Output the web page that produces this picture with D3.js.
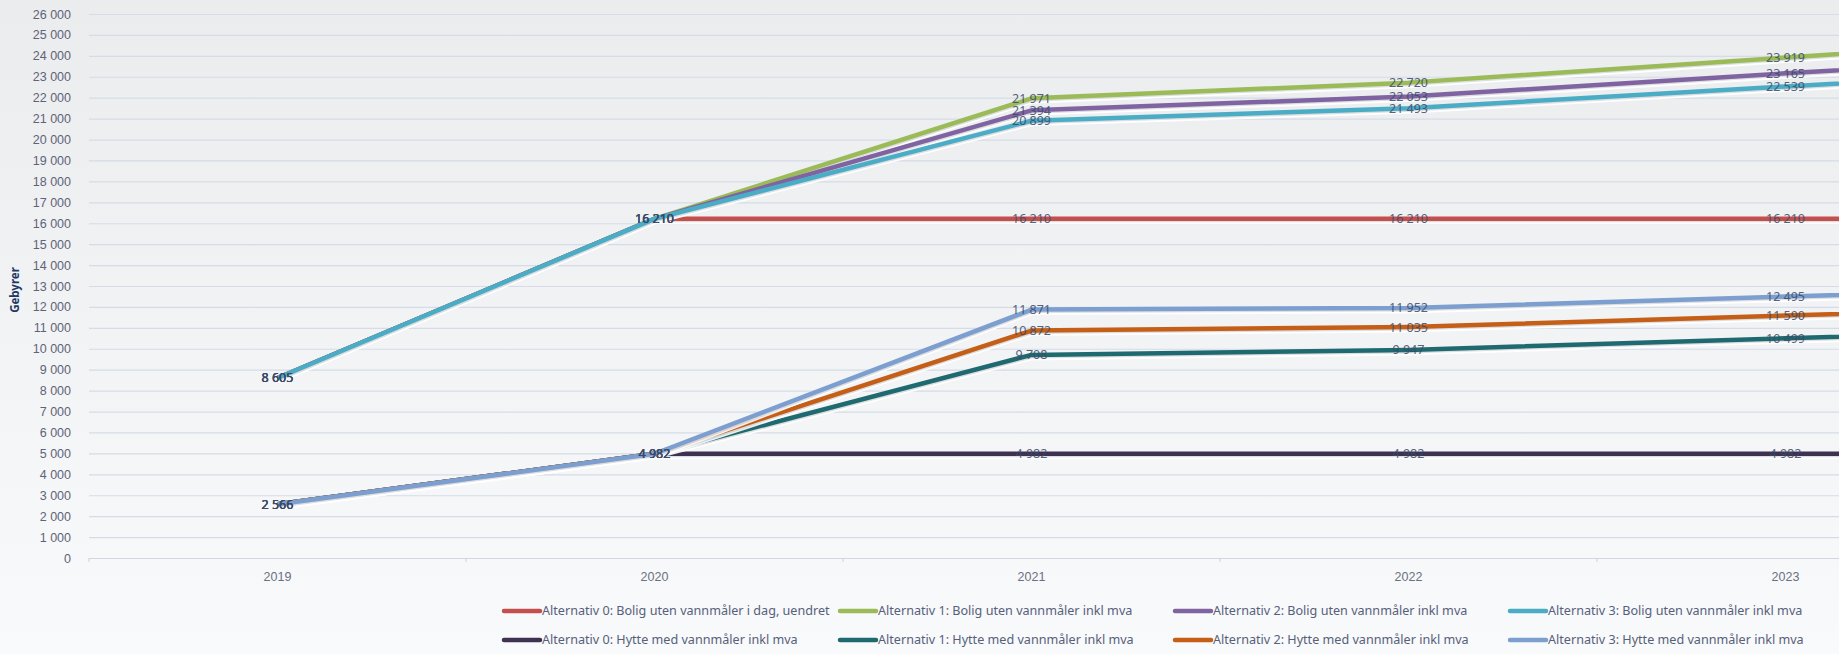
<!DOCTYPE html>
<html>
<head>
<meta charset="utf-8">
<script src="https://cdn.jsdelivr.net/npm/d3@7"></script>
<style>
  html, body { margin: 0; padding: 0; overflow: hidden; background: #f3f4f6; }
  svg { display: block; font-family: "Noto Sans", "Open Sans", sans-serif; }
</style>
</head>
<body>
<svg id="chart" width="1839" height="654"></svg>
<script>
// ---------- data ----------
const years = ["2019", "2020", "2021", "2022", "2023", "2024"];
const yTicks = [0,1000,2000,3000,4000,5000,6000,7000,8000,9000,10000,11000,12000,13000,14000,15000,16000,17000,18000,19000,20000,21000,22000,23000,24000,25000,26000];
const seriesNames = [
  "Alternativ 0: Bolig uten vannmåler i dag, uendret",
  "Alternativ 1: Bolig uten vannmåler inkl mva",
  "Alternativ 2: Bolig uten vannmåler inkl mva",
  "Alternativ 3: Bolig uten vannmåler inkl mva",
  "Alternativ 0: Hytte med vannmåler inkl mva",
  "Alternativ 1: Hytte med vannmåler inkl mva",
  "Alternativ 2: Hytte med vannmåler inkl mva",
  "Alternativ 3: Hytte med vannmåler inkl mva"
];
const seriesColors = ["#c4504d", "#9bbb59", "#8064a2", "#4bacc6", "#3f3151", "#1f6a70", "#c55e16", "#7c9fd0"];
const alt0Bolig = [8605, 16210, 16210, 16210, 16210, 16210];
const alt1Bolig = [8605, 16210, 21971, 22720, 23919, 25100];
const alt2Bolig = [8605, 16210, 21394, 22053, 23165, 24200];
const alt3Bolig = [8605, 16210, 20899, 21493, 22539, 23500];
const alt0Hytte = [2566, 4982, 4982, 4982, 4982, 4982];
const alt1Hytte = [2566, 4982, 9708, 9947, 10499, 11000];
const alt2Hytte = [2566, 4982, 10872, 11035, 11590, 12100];
const alt3Hytte = [2566, 4982, 11871, 11952, 12495, 13000];
const seriesValues = [alt0Bolig, alt1Bolig, alt2Bolig, alt3Bolig, alt0Hytte, alt1Hytte, alt2Hytte, alt3Hytte];
const yTitle = "Gebyrer";

// ---------- setup ----------
const W = 1839, H = 654;
const svg = d3.select("#chart");
const loc = d3.formatLocale({decimal: ",", thousands: "\u00a0", grouping: [3], currency: ["", ""]});
const fmt = loc.format(",d");

const defs = svg.append("defs");
const grad = defs.append("linearGradient").attr("id", "bg").attr("x1", 0).attr("y1", 0).attr("x2", 0).attr("y2", 1);
grad.append("stop").attr("offset", "0%").attr("stop-color", "#ebecee");
grad.append("stop").attr("offset", "100%").attr("stop-color", "#f9fafb");
svg.append("rect").attr("width", W).attr("height", H).attr("fill", "url(#bg)");

const plotLeft = 89, band = 377;
const x = d3.scaleBand().domain(years).range([plotLeft, plotLeft + band * years.length]).padding(0);
const y = d3.scaleLinear().domain([0, 26000]).range([558, 14]);
const cx = d => x(d) + x.bandwidth() / 2;
const visible = d => cx(d) < W - 20;

// y axis + gridlines
const yAxis = svg.append("g").attr("transform", `translate(${plotLeft},0)`)
  .call(d3.axisLeft(y).tickValues(yTicks).tickFormat(fmt).tickSize(-(W - plotLeft)).tickPadding(18));
yAxis.select(".domain").remove();
yAxis.selectAll(".tick line").attr("stroke", "#d5dce7").attr("stroke-width", 1.2);
yAxis.selectAll(".tick text").attr("fill", "#5d6478").attr("font-size", 12.5);

// x axis (only categories that fall inside the picture get a label)
const xAxis = svg.append("g").attr("transform", `translate(0,${y(0)})`)
  .call(d3.axisBottom(x).tickValues(years.filter(visible)).tickSize(0).tickPadding(14));
xAxis.select(".domain").attr("stroke", "#d0d7e2").attr("stroke-width", 1.2);
xAxis.selectAll(".tick text").attr("fill", "#6a7080").attr("font-size", 12.5);
// band boundary tick marks
svg.append("g").selectAll("line").data(years).join("line")
  .attr("x1", d => x(d)).attr("x2", d => x(d))
  .attr("y1", y(0)).attr("y2", y(0) + 4)
  .attr("stroke", "#c8d0dc");

// y title
svg.append("text").attr("transform", `translate(19,290) rotate(-90)`)
  .attr("text-anchor", "middle").attr("font-size", 11.5).attr("font-weight", "bold")
  .attr("fill", "#1f3864").text(yTitle);

// lines
const line = d3.line().x((v, i) => cx(years[i])).y(v => y(v));
const lines = svg.append("g");
seriesValues.forEach((vals, si) => {
  lines.append("path").attr("d", line(vals)).attr("fill", "none")
    .attr("stroke", "#ffffff").attr("stroke-width", 4).attr("opacity", 0.9)
    .attr("transform", "translate(0,3.5)").attr("stroke-linejoin", "round");
  lines.append("path").attr("d", line(vals)).attr("fill", "none")
    .attr("stroke", "#7a7f8a").attr("stroke-width", 4).attr("opacity", 0.25)
    .attr("transform", "translate(1,1.5)").attr("stroke-linejoin", "round");
  lines.append("path").attr("d", line(vals)).attr("fill", "none")
    .attr("stroke", seriesColors[si]).attr("stroke-width", 4.5).attr("stroke-linejoin", "round");
});

// data labels (points inside the picture)
const labels = svg.append("g");
seriesValues.forEach((vals, si) => {
  const pts = vals.map((v, i) => ({v, yr: years[i]})).filter(p => visible(p.yr));
  labels.selectAll(null).data(pts).join("text")
    .attr("x", p => cx(p.yr)).attr("y", p => y(p.v)).attr("dy", "0.36em")
    .attr("text-anchor", "middle").attr("font-size", 12.5).attr("fill", "#3a4a68").attr("opacity", 0.85)
    .text(p => fmt(p.v));
});

// legend
const legCols = [504, 840, 1175, 1510];
const legRows = [611, 640];
const leg = svg.append("g");
seriesNames.forEach((name, i) => {
  const lx = legCols[i % 4], ly = legRows[Math.floor(i / 4)];
  leg.append("line").attr("x1", lx).attr("x2", lx + 36).attr("y1", ly).attr("y2", ly)
    .attr("stroke", seriesColors[i]).attr("stroke-width", 4.5).attr("stroke-linecap", "round");
  leg.append("text").attr("x", lx + 38).attr("y", ly).attr("dy", "0.35em")
    .attr("font-size", 12.6).attr("fill", "#56607a").text(name);
});
</script>
</body>
</html>
